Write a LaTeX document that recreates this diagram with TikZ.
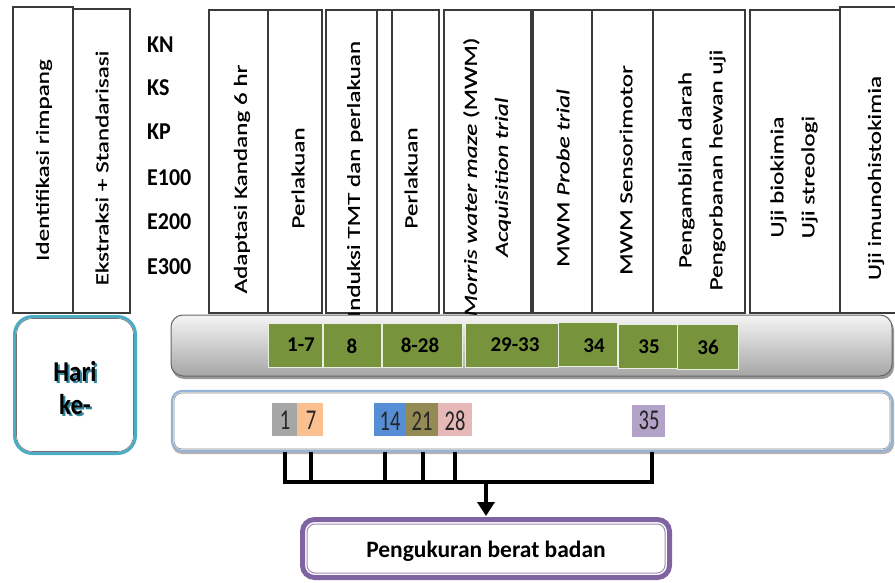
\documentclass[tikz,border=0pt]{standalone}
\usepackage{fontspec}
\setmainfont{Carlito}
\usetikzlibrary{arrows.meta}
\definecolor{cgreen}{HTML}{77933C}
\definecolor{cgrey}{HTML}{A6A6A6}
\definecolor{cpeach}{HTML}{FAC090}
\definecolor{cblue}{HTML}{558ED5}
\definecolor{ckhaki}{HTML}{948A54}
\definecolor{cpink}{HTML}{E6B9B8}
\definecolor{clav}{HTML}{B3A2C7}
\definecolor{cteal}{HTML}{4BACC6}
\definecolor{cshadow}{HTML}{31859C}
\definecolor{clblue}{HTML}{95B3D7}
\definecolor{cpurple}{HTML}{8064A2}
\definecolor{cline}{HTML}{3A3A3A}
\begin{document}
\begin{tikzpicture}[x=1pt,y=-1pt,
  colbox/.style={draw=cline, line width=1.2pt, fill=white},
  coltext/.style={rotate=90, xscale=1.36, align=center, inner sep=0pt, font=\fontsize{18.5}{31}\selectfont\addfontfeature{FakeBold=0.4}},
  grp/.style={anchor=west, inner sep=0pt, yscale=1.1, font=\bfseries\fontsize{22}{26}\selectfont},
  greenbox/.style={fill=cgreen, draw=white!85!cgreen, line width=0.7pt},
  gnum/.style={inner sep=0pt, font=\bfseries\fontsize{21}{24}\selectfont},
  smallnum/.style={inner sep=0pt, yscale=1.4, text=black!85, font=\fontsize{20.5}{24}\selectfont},
  bracket/.style={line width=4.5pt, line join=miter, line cap=butt}
]
\useasboundingbox (0,0) rectangle (895,583);

% ---- left boxes
\draw[colbox] (13,7) rectangle (73,313);
\draw[colbox] (73,9) rectangle (130,313);
\node[coltext] (tident) at (44,160) {Identifikasi rimpang};
\node[coltext] (teks) at (102,168) {Ekstraksi + Standarisasi};

% ---- group labels
\node[grp] (kn) at (147,45) {KN};
\node[grp] (ks) at (147,88) {KS};
\node[grp] (kp) at (147,132) {KP};
\node[grp] (e1) at (147,178) {E100};
\node[grp] (e2) at (147,222) {E200};
\node[grp] (e3) at (147,267) {E300};

% ---- right column boxes
\draw[colbox] (209,10) rectangle (268,313);
\draw[colbox] (268,10) rectangle (322,313);
\draw[colbox] (326,10) rectangle (377,313);
\draw[colbox] (377,10) rectangle (392,313);
\draw[colbox] (392,10) rectangle (439,313);
\draw[colbox] (444,10) rectangle (531,313);
\draw[colbox] (533,10) rectangle (592,313);
\draw[colbox] (592,10) rectangle (653,313);
\draw[colbox] (653,10) rectangle (745,313);
\draw[colbox] (750,10) rectangle (840,313);
\draw[colbox] (840,7) rectangle (905,313);

\node[coltext] (tadapt) at (242,179) {Adaptasi Kandang 6 hr};
\node[coltext] (tperl1) at (298,178) {Perlakuan};
\node[coltext] (tinduk) at (355,179) {Induksi TMT dan perlakuan};
\node[coltext] (tperl2) at (411,178) {Perlakuan};
\node[coltext] (tmwm) at (487,177) {\textit{Morris water maze} (MWM)\\ \textit{Acquisition trial}};
\node[coltext] (tprobe) at (563,178) {MWM \textit{Probe trial}};
\node[coltext] (tsens) at (626,170) {MWM Sensorimotor};
\node[coltext] (tpeng) at (702,170) {Pengambilan darah\\ Pengorbanan hewan uji};
\node[coltext] (tuji) at (794,177) {Uji biokimia\\ Uji streologi};
\node[coltext] (timun) at (876,178) {Uji imunohistokimia};

% ---- Hari ke- box
\draw[line width=3pt, cteal, rounded corners=18pt] (14.5,316.5) rectangle (135.5,453.5);
\draw[line width=0.6pt, black!55, rounded corners=16pt] (16.5,318.5) rectangle (133.5,451.5);
\node[inner sep=0pt, align=center, yscale=1.15, text=cshadow, font=\bfseries\fontsize{25}{29}\selectfont] (harishadow) at (77,390) {Hari\\ke-};
\node[inner sep=0pt, align=center, yscale=1.15, font=\bfseries\fontsize{25}{29}\selectfont] (hari) at (75,388) {Hari\\ke-};

% ---- grey timeline bar
\fill[black!40, rounded corners=12pt] (172,318) rectangle (894,379);
\shade[top color=white!96!black, bottom color=black!35, rounded corners=12pt, draw=black!60, line width=1pt] (171,315) rectangle (892,376);

% ---- green day boxes
\draw[greenbox] (268,323) rectangle (322,367);
\draw[greenbox] (323,323) rectangle (381,367);
\draw[greenbox] (382,323) rectangle (462,367);
\draw[greenbox] (465,323) rectangle (558,367);
\draw[greenbox] (558,322) rectangle (617,366);
\draw[greenbox] (618,324) rectangle (677,368);
\draw[greenbox] (677,324) rectangle (738,369);
\node[gnum] (g1) at (301,345) {1-7};
\node[gnum] (g2) at (352,346) {8};
\node[gnum] (g3) at (420,345) {8-28};
\node[gnum] (g4) at (515,345) {29-33};
\node[gnum] (g5) at (594,346) {34};
\node[gnum] (g6) at (649,347) {35};
\node[gnum] (g7) at (708,347) {36};

% ---- white weighing bar
\fill[black!30, rounded corners=10pt] (172,392) rectangle (894,454);
\draw[fill=white, draw=clblue, line width=2.2pt, rounded corners=10pt] (172,391) rectangle (892,451);
\draw[draw=black!45, line width=0.6pt, rounded corners=8pt] (174,393) rectangle (890,449);

% ---- small day boxes
\fill[cgrey] (272,403) rectangle (297,436);
\fill[cpeach] (297,403) rectangle (323,436);
\fill[cblue] (374,403) rectangle (406,436);
\fill[ckhaki] (406,403) rectangle (438,436);
\fill[cpink] (438,403) rectangle (472,436);
\fill[clav] (632,405) rectangle (665,437);
\node[smallnum] (d1) at (285,420) {1};
\node[smallnum] (d7) at (311,420) {7};
\node[smallnum] (d14) at (390,421) {14};
\node[smallnum] (d21) at (422,421) {21};
\node[smallnum] (d28) at (455,421) {28};
\node[smallnum] (d35) at (649,420) {35};

% ---- bottom box
\node[draw=cpurple, line width=5pt, rounded corners=12pt, minimum width=367pt, minimum height=58pt, inner sep=0pt] (pbb) at (486,548.5) {};
\draw[cpurple!75, line width=1pt, rounded corners=8pt] ([shift={(7,7)}]pbb.north west) rectangle ([shift={(-7,-7)}]pbb.south east);
\node[inner sep=0pt, font=\bfseries\fontsize{23.5}{28}\selectfont] (ptext) at (486,551) {Pengukuran berat badan};

% ---- bracket and arrow
\coordinate (t1) at (285,452);
\coordinate (t2) at (311,452);
\coordinate (t3) at (385,452);
\coordinate (t4) at (423,452);
\coordinate (t5) at (455,452);
\coordinate (t6) at (652,452);
\coordinate (h1) at (285,482);
\coordinate (h6) at (652,482);
\draw[bracket] (t1) -- (h1) -- (h6) -- (t6);
\draw[bracket] (t2) -- (t2 |- h1);
\draw[bracket] (t3) -- (t3 |- h1);
\draw[bracket] (t4) -- (t4 |- h1);
\draw[bracket] (t5) -- (t5 |- h1);
\coordinate (hm) at (pbb.north |- h1);
\draw[line width=4.5pt, -{Triangle[width=17pt,length=14pt]}] (hm) -- ([yshift=1pt]pbb.north);
\end{tikzpicture}
\end{document}
